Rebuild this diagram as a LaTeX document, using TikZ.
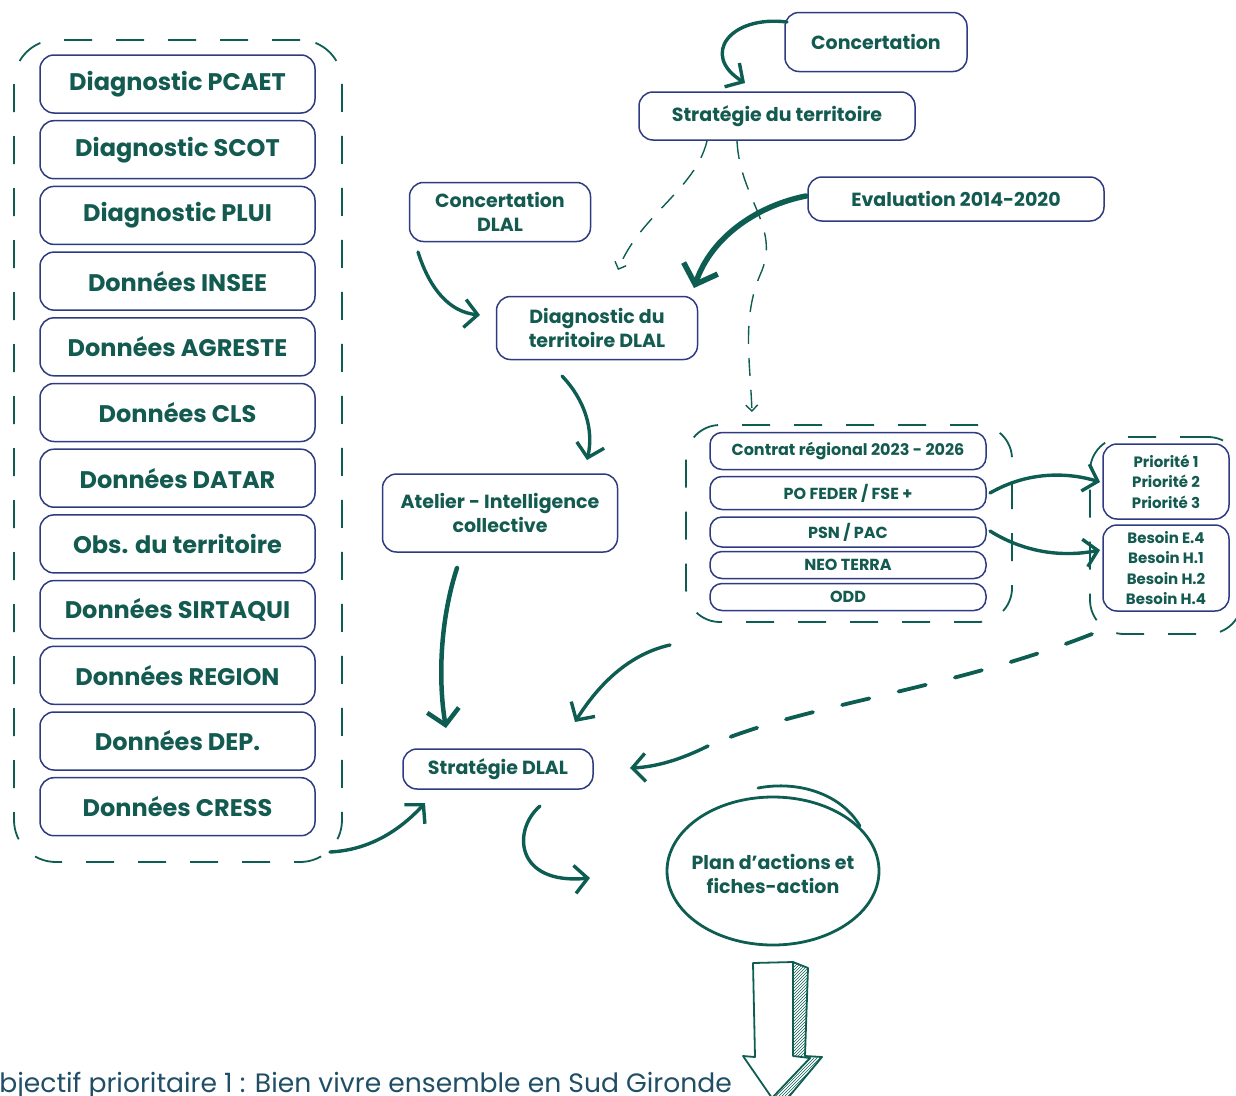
\documentclass[tikz,border=0pt]{standalone}
\usepackage{fontspec}
\setmainfont{Poppins}
\usetikzlibrary{arrows.meta,patterns,shapes.geometric}
\definecolor{teal2}{HTML}{0E5D52}
\definecolor{navy}{HTML}{2E3B80}
\definecolor{txt}{HTML}{135A50}
\definecolor{blu}{HTML}{1F4E66}
\begin{document}
\begin{tikzpicture}[x=1pt,y=-1pt,
  box/.style={draw=navy, line width=1.5pt, rounded corners=14pt, fill=white, text=txt, align=center, inner sep=0pt},
  grp/.style={draw=teal2, line width=1.8pt, rounded corners=42pt, dash pattern=on 28pt off 24pt, inner sep=0pt},
  arr/.style={draw=teal2, line width=3.4pt, line cap=round, -{Straight Barb[length=13pt,width=28pt,line width=3.4pt]}},
  darr/.style={draw=teal2, line width=1.4pt, dash pattern=on 18pt off 14pt, -{Straight Barb[length=6pt,width=12pt,line width=1.4pt]}},
  fL/.style={font=\bfseries\fontsize{24}{27}\selectfont},
  fM/.style={font=\bfseries\fontsize{19}{24}\selectfont},
  fS/.style={font=\bfseries\fontsize{16}{19}\selectfont},
  fR/.style={font=\bfseries\fontsize{15}{20.5}\selectfont}
]
\useasboundingbox (0,0) rectangle (1236,1095);

% left group
\node[grp, minimum width=328pt, minimum height=822pt] (G1) at (178,451) {};
\foreach \t [count=\i] in {Diagnostic PCAET,Diagnostic SCOT,Diagnostic PLUI,Données INSEE,Données AGRESTE,Données CLS,Données DATAR,Obs. du territoire,Données SIRTAQUI,Données REGION,Données DEP.,Données CRESS}
  \node[box, fL, minimum width=275pt, minimum height=58pt] (L\i) at (177.5,{84+65.7*(\i-1)}) {\t};

% top nodes
\node[box, fM, minimum width=182pt, minimum height=59pt] (conc) at (876,42) {Concertation};
\node[box, fM, minimum width=276pt, minimum height=48pt] (strat) at (777,116) {Stratégie du territoire};
\node[box, fM, minimum width=296pt, minimum height=44pt] (eval) at (956,199) {Evaluation 2014-2020};
\node[box, fM, minimum width=181pt, minimum height=59pt] (cdlal) at (500,212) {Concertation\\DLAL};
\node[box, fM, minimum width=201pt, minimum height=63pt] (diag) at (597,328) {Diagnostic du\\territoire DLAL};
\node[box, fM, minimum width=235pt, minimum height=78pt] (atel) at (500,513) {Atelier - Intelligence\\collective};
\node[box, fM, minimum width=190pt, minimum height=40pt] (sdlal) at (498,769) {Stratégie DLAL};

% middle-right group
\node[grp, rounded corners=34pt, minimum width=326pt, minimum height=197pt] (G2) at (849,523.5) {};
\node[box, fS, rounded corners=12pt, minimum width=276pt, minimum height=37pt] (m1) at (848,451) {Contrat régional 2023 - 2026};
\node[box, fS, rounded corners=12pt, minimum width=276pt, minimum height=33pt] (m2) at (848,493) {PO FEDER / FSE +};
\node[box, fS, rounded corners=12pt, minimum width=276pt, minimum height=30pt] (m3) at (848,532) {PSN / PAC};
\node[box, fS, rounded corners=12pt, minimum width=276pt, minimum height=27pt] (m4) at (848,565) {NEO TERRA};
\node[box, fS, rounded corners=12pt, minimum width=276pt, minimum height=27pt] (m5) at (848,597) {ODD};

% right group
\node[grp, rounded corners=34pt, minimum width=152pt, minimum height=197pt] (G3) at (1166,535.5) {};
\node[box, fR, rounded corners=14pt, minimum width=126pt, minimum height=75pt] (p1) at (1166,481.5) {Priorité 1\\Priorité 2\\Priorité 3};
\node[box, fR, rounded corners=14pt, minimum width=126pt, minimum height=86pt] (b1) at (1166,568) {Besoin E.4\\Besoin H.1\\Besoin H.2\\Besoin H.4};

% plan ellipse
\node[align=center, text=txt, fM, inner sep=0pt] (plan) at (773,874) {Plan d’actions et\\fiches-action};
\draw[teal2, line width=2.8pt] (773,871) ellipse [x radius=106, y radius=74];
\draw[teal2, line width=2.8pt, line cap=round] (758,788) .. controls (800,780) and (842,795) .. (860,826);

% coordinates for free ends
\coordinate (a1s) at (787,22);  \coordinate (a1e) at (745,83);
\coordinate (a2s) at (806,196); \coordinate (a2e) at (694,288);
\coordinate (a3s) at (418,252); \coordinate (a3e) at (480,315);
\coordinate (d1s) at (707,141); \coordinate (d1e) at (618,270);
\coordinate (d2s) at (737,141); \coordinate (d2m) at (760,275); \coordinate (d2e) at (752,412);
\coordinate (a4s) at (562,376); \coordinate (a4e) at (587,460);
\coordinate (a5s) at (457,568); \coordinate (a5e) at (446,728);
\coordinate (a6s) at (330,852); \coordinate (a6e) at (425,803);
\coordinate (a7s) at (670,645); \coordinate (a7e) at (575,722);
\coordinate (d3s) at (1092,634); \coordinate (d3m) at (708,746); \coordinate (d3e) at (630,768);
\coordinate (a8s) at (540,806); \coordinate (a8e) at (590,878);
\coordinate (a9s) at (990,493); \coordinate (a9e) at (1100,482);
\coordinate (a10s) at (990,531); \coordinate (a10e) at (1100,550);

\draw[arr] (a1s) .. controls (730,15) and (700,55) .. (a1e);
\draw[arr, line width=5.5pt, -{Straight Barb[length=17pt,width=36pt,line width=5.5pt]}] (a2s) .. controls (760,205) and (712,235) .. (a2e);
\draw[arr] (a3s) .. controls (430,290) and (450,312) .. (a3e);
\draw[darr] (d1s) .. controls (695,190) and (640,215) .. (d1e);
\draw[darr] (d2s) .. controls (740,200) and (782,228) .. (d2m) .. controls (742,318) and (750,360) .. (d2e);
\draw[arr] (a4s) .. controls (585,400) and (594,430) .. (a4e);
\draw[arr, line width=4.5pt, -{Straight Barb[length=15pt,width=32pt,line width=4.5pt]}] (a5s) .. controls (440,620) and (438,680) .. (a5e);
\draw[arr] (a6s) .. controls (370,850) and (400,830) .. (a6e);
\draw[arr] (a7s) .. controls (625,655) and (595,690) .. (a7e);
\draw[teal2, line width=3.8pt, line cap=round, dash pattern=on 28pt off 30pt] (d3s) .. controls (950,690) and (800,705) .. (d3m);
\draw[arr] (d3m) .. controls (680,760) and (655,767) .. (d3e);
\draw[arr] (a8s) .. controls (512,830) and (515,885) .. (a8e);
\draw[arr] (a9s) .. controls (1030,470) and (1070,473) .. (a9e);
\draw[arr] (a10s) .. controls (1030,556) and (1070,556) .. (a10e);

% big hollow arrow
\fill[pattern=north east lines, pattern color=teal2] (793,962) -- (808,968) -- (805,1056) -- (793,1056) -- cycle;
\fill[pattern=north east lines, pattern color=teal2] (810,1058) -- (822,1057) -- (782,1105) -- (772,1098) -- cycle;
\draw[teal2, line width=1.8pt, line join=round] (753,963) -- (793,962) -- (793,1056) -- (810,1058) -- (772,1098) -- (743,1056) -- (755,1057) -- cycle;
\draw[teal2, line width=1.8pt, line join=round] (793,962) -- (808,968) -- (805,1056) -- (822,1057) -- (782,1105);
\draw[teal2, line width=1.2pt] (805,1056) -- (810,1058);

% bottom text
\node[anchor=base east, text=blu, font=\fontsize{26.6}{29}\selectfont, inner sep=0pt] (obj) at (732,1092) {Objectif prioritaire 1 : Bien vivre ensemble en Sud Gironde};
\end{tikzpicture}
\end{document}
